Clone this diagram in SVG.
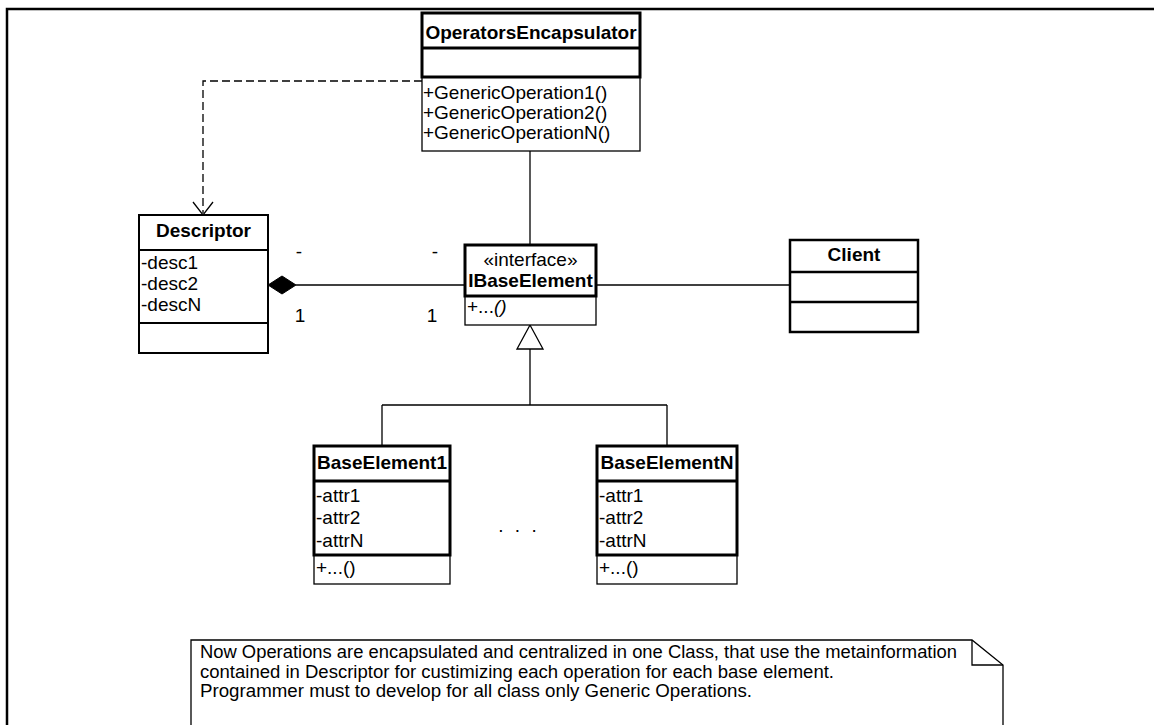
<svg xmlns="http://www.w3.org/2000/svg" width="1154" height="725" viewBox="0 0 1154 725">
  <style>
    text { font-family: "Liberation Sans", Arial, sans-serif; font-size: 19px; fill: #000; }
    .title { font-weight: bold; text-anchor: middle; }
    .center { text-anchor: middle; }
    .thick { fill: #fff; stroke: #000; stroke-width: 3; }
    .mid { fill: #fff; stroke: #000; stroke-width: 2; }
    .thin { fill: #fff; stroke: #000; stroke-width: 1.3; }
    .line { fill: none; stroke: #000; stroke-width: 1.3; }
    .dash { fill: none; stroke: #000; stroke-width: 1.3; stroke-dasharray: 8 4; }
    .note-text { font-size: 17.5px; }
  </style>

  <rect x="0" y="0" width="1154" height="725" fill="#fff"/>

  <!-- outer frame -->
  <path d="M7 725 V9 H1154" fill="none" stroke="#000" stroke-width="2.5"/>

  <!-- connectors -->
  <g id="connectors">
    <!-- dependency: OperatorsEncapsulator -> Descriptor -->
    <path class="dash" d="M422 81 H203 V213"/>
    <path class="line" d="M193 202 L203 215 L213 202"/>
    <!-- OperatorsEncapsulator - IBaseElement -->
    <path class="line" d="M530 151 V245"/>
    <!-- composition Descriptor - IBaseElement -->
    <path class="line" d="M296 285 H465"/>
    <polygon points="268,285 282,276 296,285 282,294" fill="#000" stroke="#000" stroke-width="1"/>
    <!-- IBaseElement - Client -->
    <path class="line" d="M596 285 H790"/>
    <!-- generalization -->
    <polygon points="530,325 517,349 543,349" fill="#fff" stroke="#000" stroke-width="1.3"/>
    <path class="line" d="M530 349 V405 M382 405 H667 M382 405 V446 M667 405 V446"/>
    <!-- multiplicities -->
    <text x="299" y="258" class="center">-</text>
    <text x="300" y="322" class="center">1</text>
    <text x="435" y="258" class="center">-</text>
    <text x="432" y="322" class="center">1</text>
  </g>

  <!-- OperatorsEncapsulator -->
  <g id="operators-encapsulator">
    <rect class="thin" x="422" y="77" width="218" height="74"/>
    <rect class="thick" x="422" y="13" width="218" height="64"/>
    <line x1="422" y1="48" x2="640" y2="48" stroke="#000" stroke-width="3"/>
    <text x="531" y="39" class="title">OperatorsEncapsulator</text>
    <text x="423" y="99">+GenericOperation1()</text>
    <text x="423" y="119">+GenericOperation2()</text>
    <text x="423" y="139">+GenericOperationN()</text>
  </g>

  <!-- Descriptor -->
  <g id="descriptor">
    <rect class="mid" x="139" y="215" width="129" height="138"/>
    <line x1="139" y1="250" x2="268" y2="250" stroke="#000" stroke-width="2"/>
    <line x1="139" y1="323" x2="268" y2="323" stroke="#000" stroke-width="2"/>
    <text x="203.5" y="237" class="title">Descriptor</text>
    <text x="141" y="269">-desc1</text>
    <text x="141" y="290">-desc2</text>
    <text x="141" y="311">-descN</text>
  </g>

  <!-- IBaseElement -->
  <g id="ibaseelement">
    <rect class="thin" x="465" y="296" width="131" height="29"/>
    <rect class="thick" x="465" y="245" width="131" height="51"/>
    <text x="530.5" y="266" class="center">«interface»</text>
    <text x="530.5" y="287" class="title">IBaseElement</text>
    <text x="467" y="313">+...<tspan font-style="italic">()</tspan></text>
  </g>

  <!-- Client -->
  <g id="client">
    <rect x="790" y="240" width="128" height="92" fill="#fff" stroke="#000" stroke-width="2.5"/>
    <line x1="790" y1="272" x2="918" y2="272" stroke="#000" stroke-width="2.5"/>
    <line x1="790" y1="302" x2="918" y2="302" stroke="#000" stroke-width="2.5"/>
    <text x="854" y="261" class="title">Client</text>
  </g>

  <!-- BaseElement1 -->
  <g id="base-element-1">
    <rect class="thin" x="314" y="555" width="136" height="29"/>
    <rect class="thick" x="314" y="446" width="136" height="109"/>
    <line x1="314" y1="481" x2="450" y2="481" stroke="#000" stroke-width="3"/>
    <text x="382" y="469" class="title">BaseElement1</text>
    <text x="316" y="502">-attr1</text>
    <text x="316" y="524">-attr2</text>
    <text x="316" y="547">-attrN</text>
    <text x="316" y="574">+...()</text>
  </g>

  <!-- BaseElementN -->
  <g id="base-element-n">
    <rect class="thin" x="597" y="555" width="140" height="29"/>
    <rect class="thick" x="597" y="446" width="140" height="109"/>
    <line x1="597" y1="481" x2="737" y2="481" stroke="#000" stroke-width="3"/>
    <text x="667" y="469" class="title">BaseElementN</text>
    <text x="599" y="502">-attr1</text>
    <text x="599" y="524">-attr2</text>
    <text x="599" y="547">-attrN</text>
    <text x="599" y="574">+...()</text>
  </g>

  <!-- ellipsis between the concrete elements -->
  <text x="519" y="532" class="center" letter-spacing="3">. . .</text>

  <!-- note -->
  <g id="note">
    <path d="M191 727 V640 H972 L1003 665 V727" fill="#fff" stroke="#000" stroke-width="1.3"/>
    <path d="M972 640 V665 H1003" fill="none" stroke="#000" stroke-width="1.3"/>
    <text x="200" y="658" class="note-text" textLength="757" lengthAdjust="spacingAndGlyphs">Now Operations are encapsulated and centralized in one Class, that use the metainformation</text>
    <text x="200" y="677.5" class="note-text" textLength="634" lengthAdjust="spacingAndGlyphs">contained in Descriptor for custimizing each operation for each base element.</text>
    <text x="200" y="697" class="note-text" textLength="552" lengthAdjust="spacingAndGlyphs">Programmer must to develop for all class only Generic Operations.</text>
  </g>
</svg>
